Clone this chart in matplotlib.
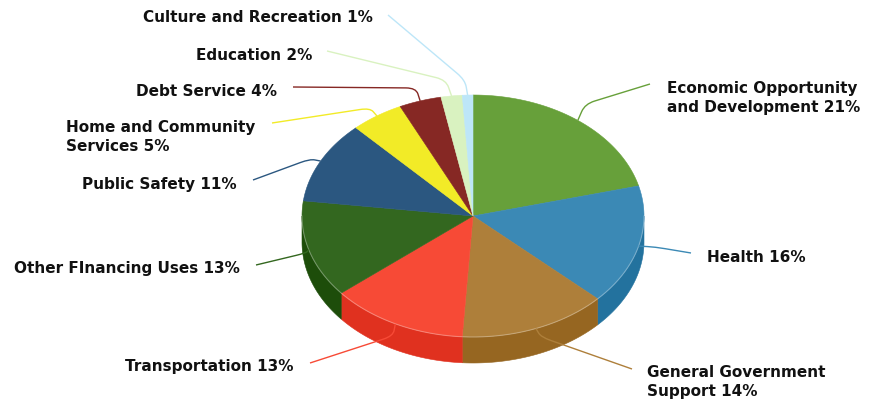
"""
3D-style pie of spending shares by category, with curved leader-line labels.
"""

import numpy as np
import matplotlib
matplotlib.use("Agg")
import matplotlib.pyplot as plt
from matplotlib.path import Path
from matplotlib.patches import Polygon, PathPatch


categories = [
    "Economic Opportunity\nand Development",
    "Health",
    "General Government\nSupport",
    "Transportation",
    "Other FInancing Uses",
    "Public Safety",
    "Home and Community\nServices",
    "Debt Service",
    "Education",
    "Culture and Recreation",
]
shares = [21, 16, 14, 13, 13, 11, 5, 4, 2, 1]

TOP_COLORS  = ["#67a03a", "#3b89b5", "#ae7f3a", "#f74a36", "#33671f",
               "#2b5780", "#f2eb27", "#862824", "#d9f2c0", "#bde6f8"]
SIDE_COLORS = ["#4f7f2a", "#23729e", "#966621", "#e0311f", "#1d4d0a",
               "#1e4262", "#c9c31a", "#661a17", "#b6d29c", "#96c6dc"]

# ellipse geometry in pixel space
CX, CY, RX, RY, DEPTH = 473, 216, 171, 121, 26

# label layout: text anchor (x, y, ha) and leader elbow / end points
LABEL_POS = [
    (667, 98, "left"),
    (707, 258, "left"),
    (647, 382, "left"),
    (294, 367, "right"),
    (240, 268, "right"),
    (237, 184, "right"),
    (255, 137, "right"),
    (277, 91, "right"),
    (312, 55, "right"),
    (373, 18, "right"),
]
ELBOWS = [(585, 104), (655, 247), (541, 337), (393, 336), (306, 253),
          (310, 159), (370, 108), (416, 88), (446, 80), (465, 80)]
LINE_ENDS = [(650, 84), (691, 253), (632, 369), (310, 363), (256, 265),
             (253, 180), (272, 123), (293, 87), (327, 51), (388, 15)]


def rim(theta, dy=0.0, scale=1.0):
    t = np.radians(theta)
    return CX + scale * RX * np.sin(t), CY - scale * RY * np.cos(t) + dy


def arc(a, b, dy=0.0, n=80):
    th = np.linspace(a, b, n)
    x, y = rim(th, dy)
    return np.column_stack([x, y])


fig = plt.figure(figsize=(8.7, 4.05), dpi=100)
ax = fig.add_axes([0, 0, 1, 1])
ax.set_xlim(0, 870)
ax.set_ylim(405, 0)
ax.axis("off")

bounds = np.concatenate([[0], np.cumsum(shares)]) * 3.6

# side walls (only the front half is visible)
for i in range(len(shares)):
    a, b = max(bounds[i], 90), min(bounds[i + 1], 270)
    if a >= b:
        continue
    top = arc(a, b)
    bot = arc(b, a, dy=DEPTH)
    ax.add_patch(Polygon(np.vstack([top, bot]), closed=True,
                         facecolor=SIDE_COLORS[i], edgecolor=SIDE_COLORS[i],
                         linewidth=0.4, zorder=1))

# top face
for i in range(len(shares)):
    pts = np.vstack([[CX, CY], arc(bounds[i], bounds[i + 1])])
    ax.add_patch(Polygon(pts, closed=True, facecolor=TOP_COLORS[i],
                         edgecolor=TOP_COLORS[i], linewidth=0.4, zorder=2))

# soft highlight along the front rim
front = arc(90, 270)
ax.plot(front[:, 0], front[:, 1], color="white", alpha=0.3, lw=0.8, zorder=3)

# leader lines and labels
for i, (name, val) in enumerate(zip(categories, shares)):
    mid = (bounds[i] + bounds[i + 1]) / 2
    start = np.array(rim(mid))
    elbow = np.array(ELBOWS[i])
    end = np.array(LINE_ENDS[i])
    p1 = start + 0.55 * (elbow - start)
    d = end - elbow
    p2 = elbow + d / np.linalg.norm(d) * min(10, 0.3 * np.linalg.norm(d))
    verts = [tuple(start), tuple(p1), tuple(elbow), tuple(p2), tuple(end)]
    codes = [Path.MOVETO, Path.LINETO, Path.CURVE3, Path.CURVE3, Path.LINETO]
    ax.add_patch(PathPatch(Path(verts, codes), facecolor="none",
                           edgecolor=TOP_COLORS[i], lw=1.0, zorder=4))

    x, y, ha = LABEL_POS[i]
    ax.text(x, y, f"{name} {val}%", ha=ha, va="center", multialignment="left",
            fontsize=11, fontweight="bold", family="DejaVu Sans",
            color="#111111", linespacing=1.35, zorder=5)

fig.savefig("out.png", dpi=100)
